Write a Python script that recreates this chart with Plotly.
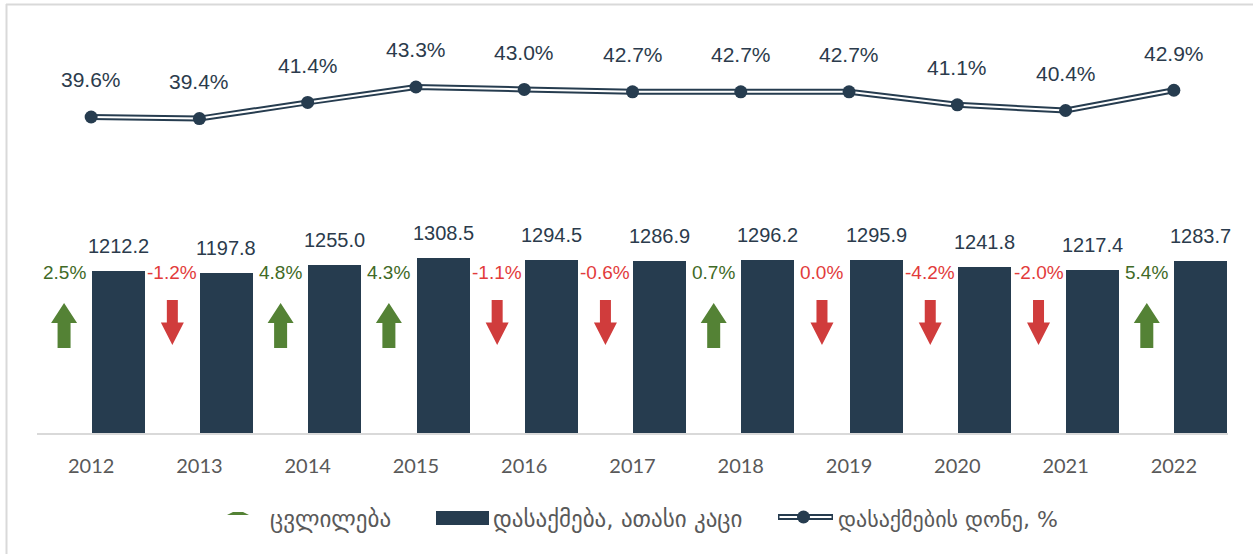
import plotly.graph_objects as go

years = ["2012", "2013", "2014", "2015", "2016", "2017", "2018", "2019", "2020", "2021", "2022"]
employment = [1212.2, 1197.8, 1255.0, 1308.5, 1294.5, 1286.9, 1296.2, 1295.9, 1241.8, 1217.4, 1283.7]
rate = [39.6, 39.4, 41.4, 43.3, 43.0, 42.7, 42.7, 42.7, 41.1, 40.4, 42.9]
change = [2.5, -1.2, 4.8, 4.3, -1.1, -0.6, 0.7, 0.0, -4.2, -2.0, 5.4]
legend_names = ["ცვლილება", "დასაქმება, ათასი კაცი", "დასაქმების დონე, %"]

DARK = "#263c4f"
TXT = "#2b3b4c"
GREEN = "#548235"
RED = "#d03c3c"
GREEN_TXT = "#3f6a26"
RED_TXT = "#e23b3b"
SANS = "Liberation Sans, Arial, sans-serif"
GEO = "DejaVu Sans, sans-serif"

W, H = 1253, 554
L, R, T, B = 37, 25, 20, 121
PW, PH = W - L - R, H - T - B


def px(xp):
    return (xp - L) / PW


def py(yp):
    return (T + PH - yp) / PH


idx = list(range(len(years)))

fig = go.Figure()

fig.add_trace(go.Bar(x=[i + 0.25 for i in idx], y=employment, width=0.49,
                     marker=dict(color=DARK, line=dict(width=0)),
                     name=legend_names[1], hoverinfo="y"))

# double line: dark thick + white thin
fig.add_trace(go.Scatter(x=idx, y=rate, yaxis="y2", mode="lines",
                         line=dict(color=DARK, width=6),
                         name=legend_names[2]))
fig.add_trace(go.Scatter(x=idx, y=rate, yaxis="y2", mode="lines",
                         line=dict(color="white", width=2),
                         hoverinfo="skip"))
fig.add_trace(go.Scatter(x=idx, y=rate, yaxis="y2", mode="markers",
                         marker=dict(color=DARK, size=13),
                         hoverinfo="skip"))

annotations = []
for i in idx:
    annotations.append(dict(x=i + 0.25, y=employment[i], xref="x", yref="y",
                            text=f"{employment[i]:.1f}", showarrow=False,
                            yanchor="middle", yshift=25,
                            font=dict(family=SANS, size=20, color=TXT)))
    annotations.append(dict(x=i, y=rate[i], xref="x", yref="y2",
                            text=f"{rate[i]:.1f}%", showarrow=False,
                            yanchor="middle", yshift=37,
                            font=dict(family=SANS, size=21, color=TXT)))
    up = change[i] > 0
    annotations.append(dict(x=i - 0.25, y=py(272), xref="x", yref="paper",
                            text=f"{change[i]:.1f}%", showarrow=False,
                            yanchor="middle",
                            font=dict(family=SANS, size=19,
                                      color=GREEN_TXT if up else RED_TXT)))

shapes = []
up_path = "M -6.5,-22.5 L 6.5,-22.5 L 6.5,2.5 L 13,2.5 L 0,22.5 L -13,2.5 L -6.5,2.5 Z"
down_path = "M -5.5,22.5 L 5.5,22.5 L 5.5,0 L 11.5,0 L 0,-22.5 L -11.5,0 L -5.5,0 Z"
for i in idx:
    up = change[i] > 0
    shapes.append(dict(type="path", xref="x", yref="paper",
                       xsizemode="pixel", ysizemode="pixel",
                       xanchor=i - 0.25, yanchor=py(325.5 if up else 322.5),
                       path=up_path if up else down_path,
                       fillcolor=GREEN if up else RED, line=dict(width=0)))

# frame (top and left edges)
shapes.append(dict(type="line", xref="paper", yref="paper",
                   x0=px(6), x1=px(W + 5), y0=py(4.5), y1=py(4.5),
                   line=dict(color="#d9d9d9", width=2)))
shapes.append(dict(type="line", xref="paper", yref="paper",
                   x0=px(6.5), x1=px(6.5), y0=py(4), y1=py(H + 5),
                   line=dict(color="#d9d9d9", width=2)))

# manual legend
LY = 519
shapes.append(dict(type="path", xref="paper", yref="paper",
                   xsizemode="pixel", ysizemode="pixel",
                   xanchor=px(238), yanchor=py(513.5),
                   path="M -11,-1.5 L 11,-1.5 L 5,1.5 L -5,1.5 Z",
                   fillcolor=GREEN, line=dict(width=0)))
annotations.append(dict(x=px(268), y=py(LY), xref="paper", yref="paper",
                        xanchor="left", yanchor="middle", showarrow=False,
                        text=legend_names[0],
                        font=dict(family=GEO, size=23, color="#595959")))
shapes.append(dict(type="rect", xref="paper", yref="paper",
                   x0=px(436), x1=px(489), y0=py(511), y1=py(525),
                   fillcolor=DARK, line=dict(width=0)))
annotations.append(dict(x=px(491), y=py(LY), xref="paper", yref="paper",
                        xanchor="left", yanchor="middle", showarrow=False,
                        text=legend_names[1],
                        font=dict(family=GEO, size=23, color="#595959")))
shapes.append(dict(type="line", xref="paper", yref="paper",
                   x0=px(778), x1=px(833), y0=py(517), y1=py(517),
                   line=dict(color=DARK, width=6)))
shapes.append(dict(type="line", xref="paper", yref="paper",
                   x0=px(779.5), x1=px(831.5), y0=py(517), y1=py(517),
                   line=dict(color="white", width=2)))
shapes.append(dict(type="circle", xref="paper", yref="paper",
                   x0=px(797), x1=px(810), y0=py(510.5), y1=py(523.5),
                   fillcolor=DARK, line=dict(width=0)))
annotations.append(dict(x=px(836), y=py(LY), xref="paper", yref="paper",
                        xanchor="left", yanchor="middle", showarrow=False,
                        text=legend_names[2],
                        font=dict(family=GEO, size=22, color="#595959")))

fig.update_layout(
    width=W, height=H,
    margin=dict(l=L, r=R, t=T, b=B),
    paper_bgcolor="white", plot_bgcolor="white",
    showlegend=False,
    xaxis=dict(range=[-0.5, 10.5], tickvals=idx, ticktext=years,
               showgrid=False, zeroline=False, showline=True,
               linecolor="#d9d9d9", linewidth=2, ticks="", ticklabelstandoff=14,
               tickfont=dict(family="Lato, Liberation Sans, sans-serif", size=20, color="#595959")),
    yaxis=dict(range=[0, 3091], visible=False, showgrid=False, zeroline=False),
    yaxis2=dict(range=[0.63, 51.56], overlaying="y", visible=False, showgrid=False, zeroline=False),
    annotations=annotations,
    shapes=shapes,
    bargap=0,
)

fig.write_html("out.html", config={"displayModeBar": False},
               post_script="document.body.style.margin='0';")
